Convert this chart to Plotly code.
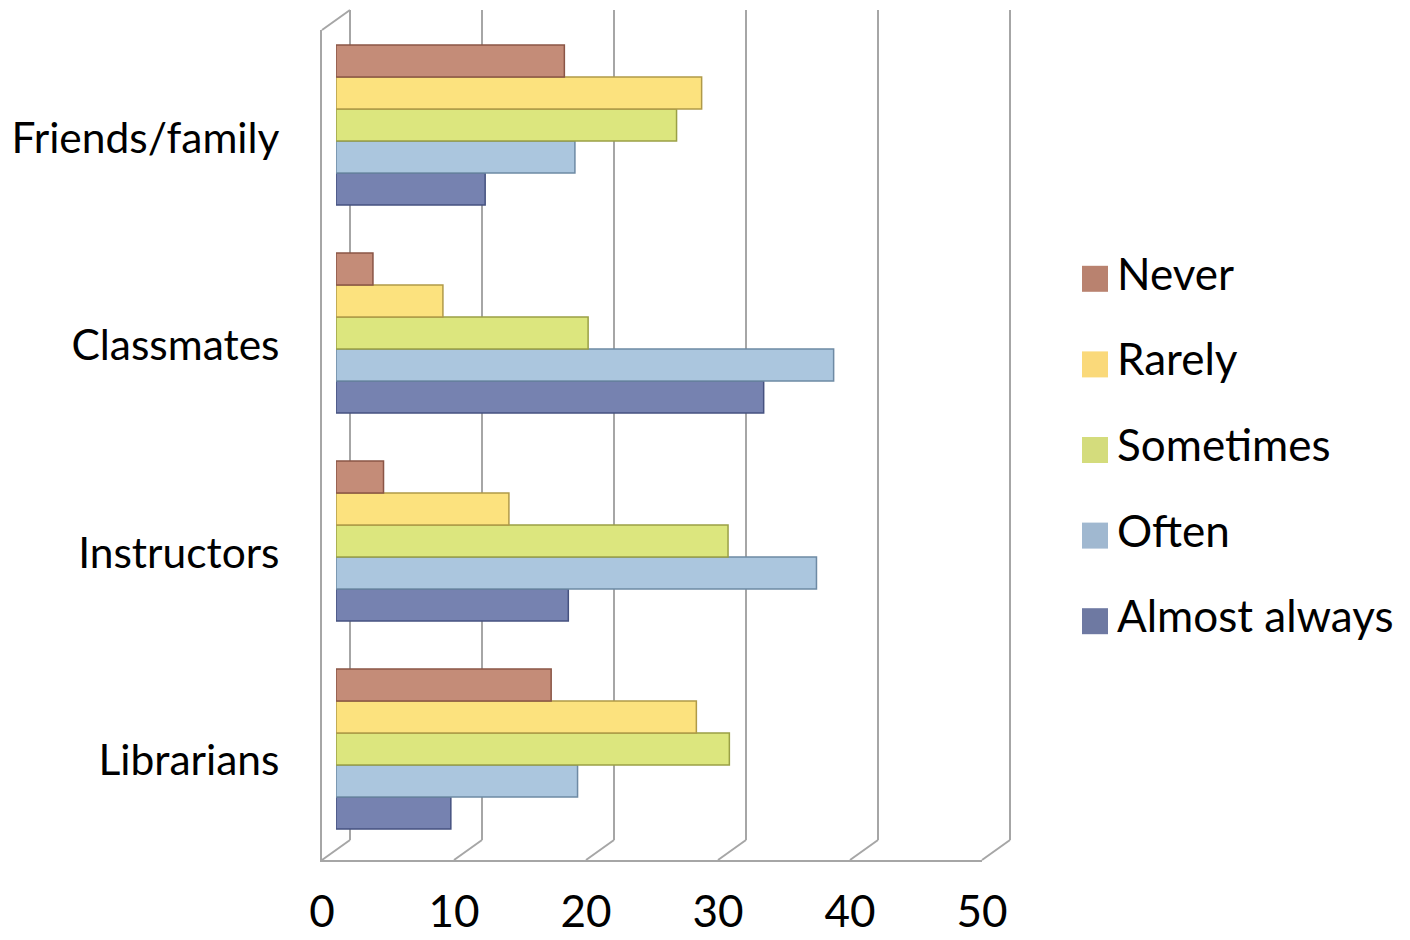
import plotly.graph_objects as go

# ---------------- data ----------------
categories = ["Librarians", "Instructors", "Classmates", "Friends/family"]
series = ["Never", "Rarely", "Sometimes", "Often", "Almost always"]
never = [16.3, 3.6, 2.8, 17.3]
rarely = [27.3, 13.1, 8.1, 27.7]
sometimes = [29.8, 29.7, 19.1, 25.8]
often = [18.3, 36.4, 37.7, 18.1]
almost_always = [8.7, 17.6, 32.4, 11.3]
x_ticks = [0, 10, 20, 30, 40, 50]

values = [never, rarely, sometimes, often, almost_always]
fill_colors = ["#C48C78", "#FCE27E", "#DCE67E", "#ABC6DE", "#7682B0"]
edge_colors = ["#8A5546", "#B09A48", "#9AA046", "#6E8AA4", "#465280"]
legend_colors = ["#B9826F", "#FAD97A", "#D4DC7C", "#A0B8D0", "#6E79A2"]

W, H = 1410, 940
FONT = "Lato"
GRID = "#A6A6A6"


def px(x):
    return x / W


def py(y):
    return 1 - y / H


# back wall geometry
BACK_L, BACK_R = 350, 1010          # pixel positions of 0 and 50 on the back wall
PPU = (BACK_R - BACK_L) / x_ticks[-1]
PAD = 0.3                            # keep edge grid lines inside the axis range
BACK_X0, BACK_X1 = px(BACK_L), px(BACK_R)
BACK_Y0, BACK_Y1 = py(840), py(10)

fig = go.Figure()

# subplot 1: front frame with tick labels and category labels
fig.add_trace(go.Scatter(x=[0] * len(categories), y=categories, mode="markers",
                         marker=dict(opacity=0), xaxis="x", yaxis="y",
                         showlegend=False, hoverinfo="skip"))
# subplot 2: back wall grid
fig.add_trace(go.Scatter(x=[None], y=[None], xaxis="x2", yaxis="y2",
                         showlegend=False, hoverinfo="skip"))
# subplot 3: bars (drawn above the grid)
for i in reversed(range(len(series))):
    fig.add_trace(go.Bar(
        y=categories, x=values[i], name=series[i], orientation="h",
        marker=dict(color=fill_colors[i], line=dict(color=edge_colors[i], width=1.5)),
        xaxis="x3", yaxis="y3", showlegend=False, hoverinfo="skip"))
# subplot 4: legend (swatches + labels)
legend_y = [len(series) - 1 - i for i in range(len(series))]
fig.add_trace(go.Scatter(
    x=[13] * len(series), y=legend_y, mode="markers",
    marker=dict(symbol="square", size=26, color=legend_colors, line=dict(width=0)),
    xaxis="x4", yaxis="y4", showlegend=False, hoverinfo="skip"))
fig.add_trace(go.Scatter(
    x=[35] * len(series), y=legend_y, mode="text", text=series,
    textposition="middle right",
    textfont=dict(family=FONT, size=44, color="#000000"),
    xaxis="x4", yaxis="y4", showlegend=False, hoverinfo="skip"))

# perspective diagonals (floor and top-left of the wall)
shapes = []
for t in x_ticks:
    xa = BACK_X0 + (BACK_X1 - BACK_X0) * t / x_ticks[-1]
    shapes.append(dict(type="line", xref="paper", yref="paper",
                       xsizemode="pixel", xanchor=xa, x0=-28, x1=0,
                       ysizemode="pixel", yanchor=BACK_Y0, y0=-20, y1=0,
                       line=dict(color=GRID, width=2)))
shapes.append(dict(type="line", xref="paper", yref="paper",
                   xsizemode="pixel", xanchor=BACK_X0, x0=-28, x1=0,
                   ysizemode="pixel", yanchor=BACK_Y1, y0=-20, y1=0,
                   line=dict(color=GRID, width=2)))

fig.update_layout(
    width=W, height=H,
    margin=dict(l=0, r=0, t=0, b=0, pad=0),
    paper_bgcolor="white", plot_bgcolor="rgba(0,0,0,0)",
    font=dict(family=FONT, color="#000000"),
    barmode="group", bargap=0.23, bargroupgap=0,
    shapes=shapes,
    xaxis=dict(domain=[px(322), px(982)], range=[0, 50], tickvals=x_ticks,
               showline=True, linecolor=GRID, linewidth=2, showgrid=False,
               zeroline=False, ticks="", tickfont=dict(size=44, family=FONT),
               ticklabelstandoff=12, anchor="y", fixedrange=True, automargin=False),
    yaxis=dict(domain=[py(860), py(30)], type="category", categoryorder="array",
               categoryarray=categories, range=[-0.5, 3.5],
               showline=True, linecolor=GRID, linewidth=2, showgrid=False,
               zeroline=False, ticks="", tickfont=dict(size=42.5, family=FONT),
               ticklabelstandoff=32, ticklabelshift=4,
               anchor="x", fixedrange=True, automargin=False),
    xaxis2=dict(domain=[px(BACK_L - PAD * PPU), px(BACK_R + PAD * PPU)],
                range=[-PAD, x_ticks[-1] + PAD], tickvals=x_ticks,
                showgrid=True, gridcolor=GRID, gridwidth=2, showticklabels=False,
                zeroline=False, showline=False, ticks="", anchor="y2", automargin=False),
    yaxis2=dict(domain=[BACK_Y0, BACK_Y1], range=[0, 1], showgrid=False,
                showticklabels=False, zeroline=False, showline=False, anchor="x2",
                automargin=False),
    xaxis3=dict(domain=[px(336), px(996)], range=[0, 50], visible=False, anchor="y3",
                automargin=False),
    yaxis3=dict(domain=[py(853), py(21)], type="category", categoryorder="array",
                categoryarray=categories, range=[-0.5, 3.5], visible=False, anchor="x3",
                automargin=False),
    xaxis4=dict(domain=[px(1082), px(1410)], range=[0, 328], visible=False, anchor="y4",
                automargin=False),
    yaxis4=dict(domain=[py(664), py(236)], range=[-0.5, 4.5], visible=False, anchor="x4",
                automargin=False),
)

fig.write_html("out.html")
